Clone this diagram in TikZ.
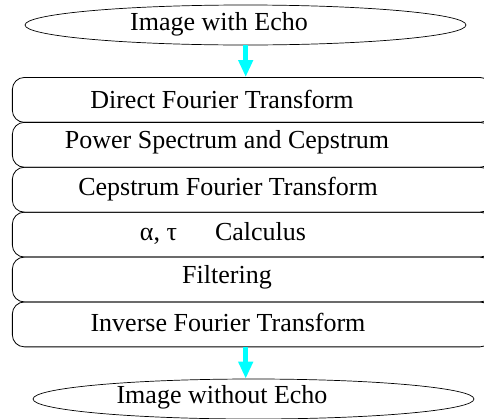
\documentclass[tikz,border=0pt]{standalone}
\usepackage{fontspec}
\setmainfont{Liberation Serif}
\usetikzlibrary{arrows.meta,shapes.geometric}

\definecolor{flowcyan}{RGB}{0,255,255}

\tikzset{
  stage/.style={draw, line width=0.8pt, rectangle, rounded corners=12pt,
    minimum width=479.7pt, minimum height=44.9pt, inner sep=0pt},
  terminal/.style={draw, line width=0.7pt, ellipse, minimum width=441pt,
    minimum height=40pt, inner sep=0pt},
  caption/.style={anchor=base, inner sep=0pt,
    font=\fontsize{26pt}{30pt}\selectfont},
  flow/.style={draw=flowcyan, line width=4.5pt,
    -{Triangle[width=14pt,length=17pt,fill=flowcyan]}},
}

\begin{document}
\begin{tikzpicture}[x=1pt, y=-1pt]
  \useasboundingbox (0,0) rectangle (484,418);
  \clip (0,0) rectangle (484,418);

  % input and output
  \node[terminal] (src) at (245.5,25) {};
  \node[caption] (srct) at (219,30.7) {Image with Echo};
  \node[terminal] (dst) at (253.5,399) {};
  \node[caption] (dstt) at (222,403.3) {Image without Echo};

  % processing stages
  \node[stage] (s1) at (252.2,99.9)  {};
  \node[stage] (s2) at (252.2,144.8) {};
  \node[stage] (s3) at (252.2,189.7) {};
  \node[stage] (s4) at (252.2,234.6) {};
  \node[stage] (s5) at (252.2,279.5) {};
  \node[stage] (s6) at (252.2,324.4) {};

  \node[caption] (t1) at (222,108.3) {Direct Fourier Transform};
  \node[caption] (t2) at (227,148.3) {Power Spectrum and Cepstrum};
  \node[caption] (t3) at (228,195)   {Cepstrum Fourier Transform};
  \node[caption] (t4) at (223,240.5) {α, τ\hspace{38pt}Calculus};
  \node[caption] (t5) at (227,283.3) {Filtering};
  \node[caption] (t6) at (228,331.7) {Inverse Fourier Transform};

  % flow arrows
  \coordinate (ax) at (245.7,0);
  \draw[flow] (ax |- src.south) -- (ax |- s1.north);
  \draw[flow] (ax |- s6.south) -- (ax |- dst.north);
\end{tikzpicture}
\end{document}
